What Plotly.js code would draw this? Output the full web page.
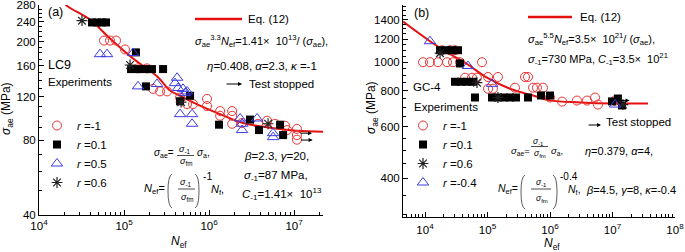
<!DOCTYPE html>
<html><head><meta charset="utf-8">
<script src="https://cdn.plot.ly/plotly-3.0.1.min.js"></script>
<style>html,body{margin:0;padding:0;background:#fff}#chart{width:685px;height:252px}</style>
</head><body><div id="chart"></div>
<script>
// ---------- Panel (a) LC9 ----------
const curveL_N = [18500, 21900, 39800, 68400, 127600, 244000, 348000, 456000, 716000, 1.35e6, 2.51e6, 5.22e6, 1.07e7, 2.19e7];
const curveL_S = [292, 277, 245, 206, 171, 145, 127, 121, 112, 102, 94, 90, 87.5, 86.7];

const circlesL_N = [58200, 68400, 80500, 102800, 146000, 186000, 219000, 265000, 321000, 456000, 551000, 648000, 946000, 946000, 1.35e6, 1.35e6, 1.87e6, 1.87e6, 1.87e6, 2.44e6, 3.77e6, 4.81e6, 5.97e6, 7.84e6, 8.28e6, 1.08e7, 1.08e7, 1.08e7];
const circlesL_S = [202, 202, 202, 186, 156, 156, 129, 126, 126, 119, 112, 112, 117.5, 110, 105, 100.5, 105, 100.5, 93.3, 94, 93.3, 96, 93.3, 91.6, 88, 89, 84, 80.5];

const squaresL_N = [42000, 48100, 55100, 61400, 138000, 121000, 146000, 176000, 213000, 288000, 181000, 456000, 598000, 1.31e6, 3.03e6, 3.87e6, 6.84e6, 7.43e6];
const squaresL_S = [239, 239, 239, 239, 181, 155, 155, 155, 155, 155, 132, 115, 121, 92.5, 97, 88, 92.5, 84];

const trianglesL_N = [52200, 63100, 127600, 146000, 244000, 421000, 398000, 432000, 494000, 522000, 551000, 456000, 631000, 631000, 2.32e6, 2.44e6, 2.44e6, 3.67e6, 5.66e6, 5.66e6];
const trianglesL_S = [178, 178, 180, 132, 135, 143, 136, 130, 129, 124, 126, 102, 102, 93.3, 98, 93.3, 88, 98, 85.5, 82.4];

const asterisksL_N = [32000, 117700, 469000, 4.94e6];
const asterisksL_S = [243, 161, 114, 93.3];

const stoppedL_N = [1.08e7, 1.1e7];
const stoppedL_S = [85.5, 80.2];

const yTicksL = [40, 80, 120, 160, 200, 240, 280];
const xTicksL = [1e4, 1e5, 1e6, 1e7];
const xLabelsL = ['10<sup>4</sup>', '10<sup>5</sup>', '10<sup>6</sup>', '10<sup>7</sup>'];

// ---------- Panel (b) GC-4 ----------
const curveR_N = [4450, 12000, 25100, 47000, 98200, 229000, 535000, 1e6, 3.02e6, 1.02e7, 3.7e7];
const curveR_S = [1377, 1180, 1067, 986, 885, 811, 769, 740, 728, 722, 722];

const circlesR_N = [18700, 25100, 30200, 9290, 12000, 16100, 22500, 28100, 36300, 81700, 43700, 56500, 67900, 102000, 147000, 102000, 122000, 275000, 398000, 445000, 535000, 619000, 773000, 1e6, 1.56e6, 2.7e6, 3.91e6, 5.25e6, 5.86e6, 1.1e7];
const circlesR_S = [1099, 1099, 1099, 1000, 1000, 1000, 1000, 1000, 1000, 1000, 885, 885, 885, 890, 890, 811, 811, 818, 890, 890, 818, 818, 818, 757, 733, 739, 739, 757, 716, 739];

const squaresR_N = [17400, 21700, 27000, 33700, 36300, 30200, 37700, 47000, 58600, 63100, 118000, 147000, 184000, 229000, 286000, 445000, 718000, 1e6, 9.82e6, 1.22e7, 1.42e7];
const squaresR_S = [1099, 1099, 1099, 1099, 990, 857, 857, 857, 857, 757, 757, 757, 757, 757, 757, 757, 769, 769, 734, 751, 711];

const asterisksR_N = [17400, 67900, 147000, 1.47e7];
const asterisksR_S = [1074, 851, 757, 716];

const trianglesR_N = [12000, 48700, 118000, 1.1e7];
const trianglesR_S = [1180, 970, 843, 716];

const stoppedR_N = [1.25e7];
const stoppedR_S = [740];

const yTicksR = [400, 600, 800, 1000, 1200, 1400];
const xTicksR = [1e4, 1e5, 1e6, 1e7, 1e8];
const xLabelsR = ['10<sup>4</sup>', '10<sup>5</sup>', '10<sup>6</sup>', '10<sup>7</sup>', '10<sup>8</sup>'];

// ---------- styling ----------
const W = 685, H = 252;
const px = x => x / W, py = y => 1 - y / H;
const F = '"Liberation Sans", Arial, sans-serif';
const RED = 'rgb(236,50,50)', CURVE = 'rgb(228,16,16)', BLUE = 'rgb(60,60,225)';

function mk(N, S, xa, ya, name, marker, legend, show) {
  return {x: N, y: S, xaxis: xa, yaxis: ya, type: 'scatter', mode: 'markers', name: name,
          marker: marker, legend: legend, showlegend: show, cliponaxis: true};
}
const mCircle = {symbol: 'circle-open', size: 9, color: RED, line: {width: 1, color: RED}};
const mSquare = {symbol: 'square', size: 8, color: '#000'};
const mTri = {symbol: 'triangle-up-open', size: 10, color: BLUE, line: {width: 1, color: BLUE}};
const mAst = {symbol: 'asterisk-open', size: 9, color: '#222', line: {width: 1.2, color: '#222'}};

const traces = [
  {x: curveL_N, y: curveL_S, xaxis: 'x', yaxis: 'y', mode: 'lines', line: {color: CURVE, width: 2, shape: 'spline'}, showlegend: false},
  mk(circlesL_N, circlesL_S, 'x', 'y', '<i>r</i> =-1', mCircle, 'legend', true),
  mk(squaresL_N, squaresL_S, 'x', 'y', '<i>r</i> =0.1', mSquare, 'legend', true),
  mk(trianglesL_N, trianglesL_S, 'x', 'y', '<i>r</i> =0.5', mTri, 'legend', true),
  mk(asterisksL_N, asterisksL_S, 'x', 'y', '<i>r</i> =0.6', mAst, 'legend', true),
  {x: curveR_N, y: curveR_S, xaxis: 'x2', yaxis: 'y2', mode: 'lines', line: {color: CURVE, width: 2, shape: 'spline'}, showlegend: false},
  mk(circlesR_N, circlesR_S, 'x2', 'y2', '<i>r</i> =-1', mCircle, 'legend2', true),
  mk(squaresR_N, squaresR_S, 'x2', 'y2', '<i>r</i> =0.1', mSquare, 'legend2', true),
  mk(asterisksR_N, asterisksR_S, 'x2', 'y2', '<i>r</i> =0.6', mAst, 'legend2', true),
  mk(trianglesR_N, trianglesR_S, 'x2', 'y2', '<i>r</i> =-0.4', mTri, 'legend2', true)
];

function minorLog(a, b) { const v = []; for (let d = a; d <= b; d++) for (let k = 2; k <= 9; k++) v.push(k * Math.pow(10, d)); return v; }
function minorLin(a, b, s) { const v = []; for (let t = a; t <= b; t += s) v.push(t); return v; }

const axBase = {showline: true, linecolor: '#000', linewidth: 1, ticks: 'inside', ticklen: 5, tickwidth: 1, tickcolor: '#000',
  showgrid: false, zeroline: false, mirror: false, ticklabeloverflow: 'allow', tickfont: {size: 11.5, color: '#000', family: F}};

const layout = {
  width: W, height: H, margin: {l: 0, r: 0, t: 0, b: 0}, paper_bgcolor: '#fff', plot_bgcolor: 'rgba(0,0,0,0)',
  font: {family: F, size: 11, color: '#000'},
  xaxis: Object.assign({}, axBase, {type: 'log', range: [4, 7.34], domain: [px(39), px(323)], anchor: 'y', tickmode: 'array', tickvals: xTicksL, ticktext: xLabelsL,
    minor: {tickvals: minorLog(4, 7), ticks: 'inside', ticklen: 3, tickcolor: '#000', showgrid: false}}),
  yaxis: Object.assign({}, axBase, {type: 'log', range: [Math.log10(40), Math.log10(281)], domain: [py(215), py(5)], anchor: 'x', tickmode: 'array', tickvals: yTicksL, ticktext: yTicksL.map(String),
    minor: {tickvals: minorLin(40, 280, 10), ticks: 'inside', ticklen: 3, tickcolor: '#000', showgrid: false}}),
  xaxis2: Object.assign({}, axBase, {type: 'log', range: [3.648, 8], domain: [px(403), px(675)], anchor: 'y2', tickmode: 'array', tickvals: xTicksR, ticktext: xLabelsR, ticklabelstandoff: 2,
    minor: {tickvals: minorLog(3, 7), ticks: 'inside', ticklen: 3, tickcolor: '#000', showgrid: false}}),
  yaxis2: Object.assign({}, axBase, {type: 'log', range: [Math.log10(295), Math.log10(1570)], domain: [py(217), py(5)], anchor: 'x2', tickmode: 'array', tickvals: yTicksR, ticktext: yTicksR.map(String),
    minor: {tickvals: minorLin(300, 1550, 50), ticks: 'inside', ticklen: 3, tickcolor: '#000', showgrid: false}}),
  legend: {x: px(37), y: py(111), xanchor: 'left', yanchor: 'top', bgcolor: 'rgba(0,0,0,0)', font: {size: 11.5, family: F}, tracegroupgap: 0, itemwidth: 30},
  legend2: {x: px(403), y: py(111), xanchor: 'left', yanchor: 'top', bgcolor: 'rgba(0,0,0,0)', font: {size: 11.5, family: F}, tracegroupgap: 0, itemwidth: 30},
  shapes: [], annotations: []
};

function T(text, x, y, o) {
  return Object.assign({xref: 'paper', yref: 'paper', x: px(x), y: py(y), text: text, showarrow: false, xanchor: 'left', yanchor: 'middle',
    font: {size: 11.5, color: '#000', family: F}}, o || {});
}
function line(x0, y0, x1, y1, color, w) {
  return {type: 'line', xref: 'paper', yref: 'paper', x0: px(x0), y0: py(y0), x1: px(x1), y1: py(y1), line: {color: color, width: w}};
}
function paren(x, y0, y1, left) {
  const d = left ? 4 : -4, ym = (y0 + y1) / 2;
  return {type: 'path', xref: 'paper', yref: 'paper', line: {color: '#333', width: 0.8},
    path: `M ${px(x + d)} ${py(y0)} Q ${px(x)} ${py(y0 + 2)} ${px(x)} ${py(ym)} Q ${px(x)} ${py(y1 - 2)} ${px(x + d)} ${py(y1)}`};
}
const sig = s => '<i>σ</i><sub>' + s + '</sub>';
const A = layout.annotations, S = layout.shapes;

// Panel (a) texts
A.push(T('(a)', 46, 12, {font: {size: 12.5, family: F}}));
S.push(line(195, 19, 242, 19, CURVE, 2.5));
A.push(T('Eq. (12)', 246, 19));
A.push(T(sig('ae') + '<sup>3.3</sup><i>N</i><sub>ef</sub>=1.41×  10<sup>13</sup>/ (' + sig('ae') + '),', 193, 41, {font: {size: 11, family: F}}));
A.push(T('<i>η</i>=0.408, <i>α</i>=2.3, <i>κ</i> =-1', 205, 66));
A.push({xref: 'paper', yref: 'paper', x: px(242), y: py(84), ax: -17, ay: 0, text: '', showarrow: true, arrowhead: 2, arrowsize: 0.8, arrowwidth: 1, arrowcolor: '#000'});
A.push(T('Test stopped', 247, 84));
A.push(T('LC9', 46, 65, {font: {size: 12.5, family: F}}));
A.push(T('Experiments', 46, 82));
A.push(T(sig('ae') + '=', 176, 153, {xanchor: 'right', font: {size: 10, family: F}}));
A.push(T(sig('-1'), 185, 149, {xanchor: 'center', font: {size: 9, family: F}}));
S.push(line(177, 155.5, 194, 155.5, '#000', 0.7));
A.push(T(sig('fm'), 186, 161, {xanchor: 'center', font: {size: 9, family: F}}));
A.push(T(sig('a') + ',', 195, 153, {font: {size: 10, family: F}}));
A.push(T('<i>β</i>=2.3, <i>γ</i>=20,', 242, 156));
A.push(T(sig('-1') + '=87 MPa,', 242, 176));
A.push(T('<i>C</i><sub>-1</sub>=1.41×  10<sup>13</sup>', 240, 194));
A.push(T('<i>N</i><sub>ef</sub>=', 167, 189, {xanchor: 'right', font: {size: 11, family: F}}));
S.push(paren(168, 174, 208, true));
A.push(T(sig('-1'), 186, 182, {xanchor: 'center', font: {size: 9, family: F}}));
S.push(line(178, 189, 195, 189, '#000', 0.7));
A.push(T(sig('fm'), 187, 197, {xanchor: 'center', font: {size: 9, family: F}}));
S.push(paren(199, 174, 208, false));
A.push(T('-1', 201, 176, {font: {size: 10.5, family: F}}));
A.push(T('<i>N</i><sub>f</sub>,', 209, 190, {font: {size: 11, family: F}}));
A.push(T(sig('ae') + ' (MPa)', 7, 109, {xanchor: 'center', textangle: -90, font: {size: 12, family: F}}));
A.push(T('<i>N</i><sub>ef</sub>', 179, 242, {xanchor: 'center', font: {size: 12, family: F}}));

// Panel (b) texts
A.push(T('(b)', 412, 13, {font: {size: 12.5, family: F}}));
S.push(line(528, 17, 572, 17, CURVE, 2.5));
A.push(T('Eq. (12)', 578, 17));
A.push(T(sig('ae') + '<sup>5.5</sup><i>N</i><sub>ef</sub>=3.5×  10<sup>21</sup>/ (' + sig('ae') + '),', 526, 39, {font: {size: 11, family: F}}));
A.push(T(sig('-1') + '=730 MPa, <i>C</i><sub>-1</sub>=3.5×  10<sup>21</sup>', 526, 59, {font: {size: 11, family: F}}));
A.push(T('GC-4', 411, 87));
A.push(T('Experiments', 412, 107));
A.push({xref: 'paper', yref: 'paper', x: px(601), y: py(125), ax: -14, ay: 0, text: '', showarrow: true, arrowhead: 2, arrowsize: 0.8, arrowwidth: 1, arrowcolor: '#000'});
A.push(T('Test stopped', 604, 122));
A.push(T(sig('ae') + '=', 532, 151, {xanchor: 'right', font: {size: 9.5, family: F}}));
A.push(T(sig('-1'), 538, 141, {xanchor: 'center', font: {size: 8.5, family: F}}));
S.push(line(531, 146.5, 548, 146.5, '#000', 0.7));
A.push(T(sig('fm'), 540, 153, {xanchor: 'center', font: {size: 8.5, family: F}}));
A.push(T(sig('a') + ',', 549, 151, {font: {size: 9.5, family: F}}));
A.push(T('<i>η</i>=0.379, <i>α</i>=4,', 583, 151, {font: {size: 11, family: F}}));
A.push(T('<i>N</i><sub>ef</sub>=', 520, 189, {xanchor: 'right', font: {size: 10.5, family: F}}));
S.push(paren(521, 175, 209, true));
A.push(T(sig('-1'), 541, 182, {xanchor: 'center', font: {size: 8.5, family: F}}));
S.push(line(531, 189, 551, 189, '#000', 0.7));
A.push(T(sig('fm'), 542, 198, {xanchor: 'center', font: {size: 8.5, family: F}}));
S.push(paren(557, 175, 209, false));
A.push(T('-0.4', 558, 176, {font: {size: 10, family: F}}));
A.push(T('<i>N</i><sub>f</sub>,', 566, 190, {font: {size: 10.5, family: F}}));
A.push(T('<i>β</i>=4.5, <i>γ</i>=8, <i>κ</i>=-0.4', 584, 190, {font: {size: 11, family: F}}));
A.push(T(sig('ae') + ' (MPa)', 372, 108, {xanchor: 'center', textangle: -90, font: {size: 12, family: F}}));
A.push(T('<i>N</i><sub>ef</sub>', 552, 244, {xanchor: 'center', font: {size: 12, family: F}}));

// Test-stopped arrows on specimens (data coordinates)
stoppedL_N.forEach((n, i) => A.push({xref: 'x', yref: 'y', x: Math.log10(n), y: Math.log10(stoppedL_S[i]), xshift: 15, ax: -13, ay: 0, text: '', showarrow: true, arrowhead: 2, arrowsize: 0.8, arrowwidth: 1, arrowcolor: '#000'}));
stoppedR_N.forEach((n, i) => A.push({xref: 'x2', yref: 'y2', x: Math.log10(n), y: Math.log10(stoppedR_S[i]), xshift: 11, ax: -10, ay: 0, text: '', showarrow: true, arrowhead: 2, arrowsize: 0.8, arrowwidth: 1, arrowcolor: '#000'}));

Plotly.newPlot('chart', traces, layout, {displayModeBar: false, staticPlot: true});
</script></body></html>
